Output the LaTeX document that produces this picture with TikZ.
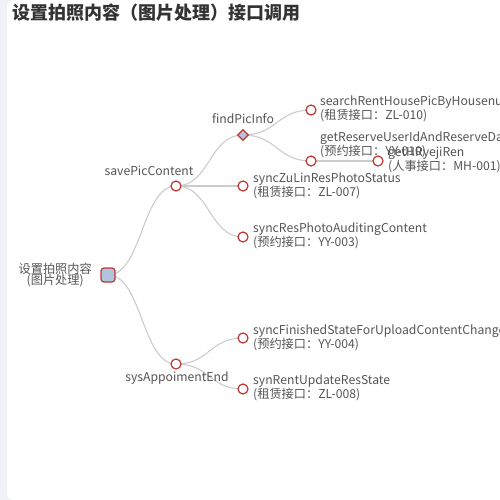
\documentclass[tikz,border=0pt]{standalone}
\usepackage{fontspec}
\usetikzlibrary{positioning, shapes.geometric, backgrounds}
\newfontfamily\cjk{Noto Sans CJK SC}
\definecolor{nodered}{RGB}{194, 53, 49}
\definecolor{nodefill}{RGB}{176, 196, 222}
\definecolor{linkgray}{RGB}{204, 204, 204}
\definecolor{labelgray}{RGB}{85, 85, 85}
\definecolor{stripgray}{RGB}{240, 242, 248}

\begin{document}
\begin{tikzpicture}[
    x=1pt, y=-1pt,
    leaf/.style={
      circle, draw=nodered, fill=white, line width=1.2pt,
      minimum size=10pt, inner sep=0pt
    },
    rootbox/.style={
      rectangle, rounded corners=3pt, draw=nodered, fill=nodefill,
      line width=1.2pt, minimum size=14pt, inner sep=0pt
    },
    hub/.style={
      diamond, draw=nodered, fill=nodefill, line width=1.2pt,
      minimum size=11pt, inner sep=0pt
    },
    lbl/.style={
      font=\cjk\fontsize{12.2}{11.5}\selectfont, text=labelgray,
      inner sep=0pt, align=left
    },
    leaflbl/.style={lbl, anchor=west},
    link/.style={draw=linkgray, line width=1.1pt},
]
    \useasboundingbox (0,0) rectangle (500,500);
    \clip (0,0) rectangle (500,500);

    % Page
    \begin{scope}[on background layer]
      \fill[stripgray] (0,0) rectangle (500,500);
      \fill[white, rounded corners=6pt] (7,0) rectangle (520,500);
    \end{scope}

    % Title
    \node[anchor=west, inner sep=0pt, text=black!80,
      font=\cjk\fontsize{18}{18}\selectfont\bfseries] (title) at (12,13)
      {设置拍照内容（图片处理）接口调用};

    % Tree nodes
    \node[rootbox] (root) at (108,275) {};
    \node[leaf] (save) at (176,186) {};
    \node[hub] (find) at (243,135) {};
    \node[leaf] (search) at (311,110) {};
    \node[leaf] (getres) at (311,161) {};
    \node[leaf] (gethr) at (378,161) {};
    \node[leaf] (synczu) at (243,186) {};
    \node[leaf] (syncres) at (243,237) {};
    \node[leaf] (sysapp) at (176,364) {};
    \node[leaf] (syncfin) at (243,338) {};
    \node[leaf] (synrent) at (243,389) {};

    % Labels
    \node[lbl, anchor=east, align=center] (rootlbl) at (92,275)
      {设置拍照内容\\(图片处理)};
    \node[lbl] (savelbl) at (149,171) {savePicContent};
    \node[lbl] (findlbl) at (243,119) {findPicInfo};
    \node[lbl] (sysapplbl) at (177,378) {sysAppoimentEnd};
    \node[leaflbl] (searchlbl) at (320,109)
      {searchRentHousePicByHousenum\\(租赁接口：ZL-010)};
    \node[leaflbl] (getreslbl) at (320,145)
      {getReserveUserIdAndReserveDate\\(预约接口：YY-010)};
    \node[leaflbl] (gethrlbl) at (388,160)
      {getHRyejiRen\\(人事接口：MH-001)};
    \node[leaflbl] (synczulbl) at (253,185.5)
      {syncZuLinResPhotoStatus\\(租赁接口：ZL-007)};
    \node[leaflbl] (syncreslbl) at (253,235.5)
      {syncResPhotoAuditingContent\\(预约接口：YY-003)};
    \node[leaflbl] (syncfinlbl) at (253,338)
      {syncFinishedStateForUploadContentChange\\(预约接口：YY-004)};
    \node[leaflbl] (synrentlbl) at (253,387.5)
      {synRentUpdateResState\\(租赁接口：ZL-008)};

    % Links
    \begin{scope}[on background layer]
      \foreach \a/\b in {root/save, root/sysapp, save/find, save/synczu,
          save/syncres, find/search, find/getres, getres/gethr,
          sysapp/syncfin, sysapp/synrent}
        \draw[link] (\a.center) .. controls +(34,0) and +(-34,0) .. (\b.center);
    \end{scope}
\end{tikzpicture}
\end{document}
